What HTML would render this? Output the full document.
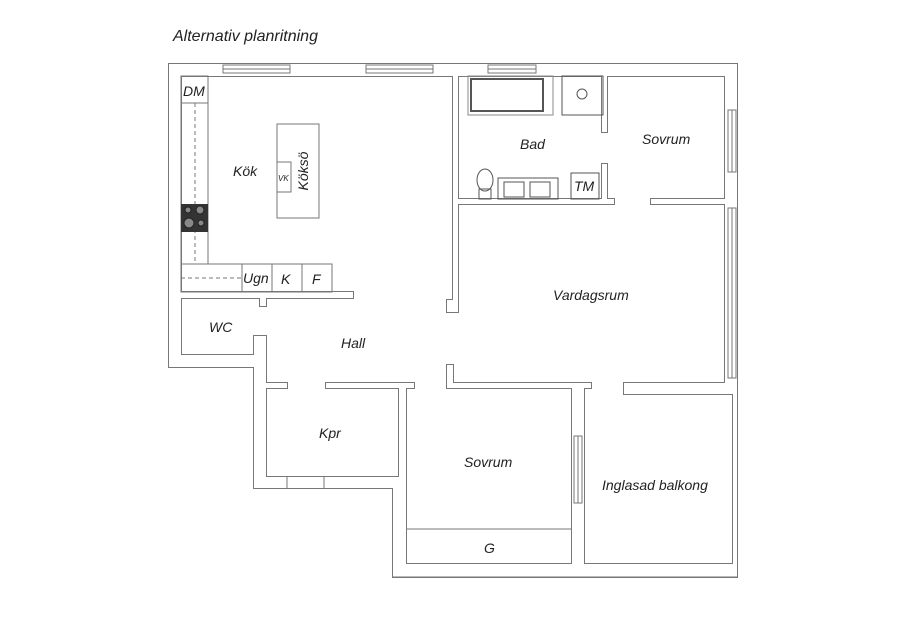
<!DOCTYPE html>
<html><head><meta charset="utf-8"><style>
html,body{margin:0;padding:0;background:#fff;}
svg{display:block;}
text{font-family:"Liberation Sans",sans-serif;font-style:italic;fill:#222;}
</style></head><body>
<svg width="905" height="640" viewBox="0 0 905 640" xmlns="http://www.w3.org/2000/svg">
<text x="173" y="41" font-size="16" fill="#111">Alternativ planritning</text>
<g id="walls" stroke="#777" stroke-width="2" fill="#fff">
<rect x="169" y="64" width="568" height="12"/>
<rect x="169" y="64" width="12" height="303"/>
<rect x="169" y="355" width="91" height="12"/>
<rect x="254" y="336" width="12" height="152"/>
<rect x="181" y="292" width="172" height="6"/>
<rect x="260" y="292" width="6" height="14"/>
<rect x="266" y="383" width="21" height="5"/>
<rect x="326" y="383" width="88" height="5"/>
<rect x="447" y="383" width="144" height="5"/>
<rect x="447" y="365" width="6" height="23"/>
<rect x="624" y="383" width="101" height="11"/>
<rect x="725" y="64" width="12" height="330"/>
<rect x="733" y="383" width="4" height="194"/>
<rect x="399" y="383" width="7" height="105"/>
<rect x="254" y="477" width="152" height="11"/>
<rect x="393" y="477" width="13" height="100"/>
<rect x="393" y="564" width="344" height="13"/>
<rect x="572" y="383" width="12" height="181"/>
<rect x="453" y="64" width="5" height="248"/>
<rect x="447" y="300" width="11" height="12"/>
<rect x="458" y="199" width="156" height="5"/>
<rect x="651" y="199" width="74" height="5"/>
<rect x="602" y="64" width="5" height="68"/>
<rect x="602" y="164" width="5" height="40"/>
</g>
<g fill="#fff" stroke="none">
<rect x="169" y="64" width="568" height="12"/>
<rect x="169" y="64" width="12" height="303"/>
<rect x="169" y="355" width="91" height="12"/>
<rect x="254" y="336" width="12" height="152"/>
<rect x="181" y="292" width="172" height="6"/>
<rect x="260" y="292" width="6" height="14"/>
<rect x="266" y="383" width="21" height="5"/>
<rect x="326" y="383" width="88" height="5"/>
<rect x="447" y="365" width="6" height="23"/>
<rect x="447" y="300" width="11" height="12"/>
<rect x="725" y="64" width="12" height="330"/>
<rect x="733" y="383" width="4" height="194"/>
<rect x="399" y="383" width="7" height="105"/>
<rect x="254" y="477" width="152" height="11"/>
<rect x="393" y="477" width="13" height="100"/>
<rect x="393" y="564" width="344" height="13"/>
<rect x="572" y="383" width="12" height="181"/>
<rect x="624" y="383" width="101" height="11"/>
<rect x="447" y="383" width="144" height="5"/>
<rect x="453" y="64" width="5" height="248"/>
<rect x="458" y="199" width="156" height="5"/>
<rect x="651" y="199" width="74" height="5"/>
<rect x="602" y="64" width="5" height="68"/>
<rect x="602" y="164" width="5" height="40"/>
</g>
<g stroke="#777" stroke-width="1" fill="none">
<line x1="287" y1="477" x2="287" y2="488"/><line x1="324" y1="477" x2="324" y2="488"/>
<line x1="406" y1="529" x2="572" y2="529"/>
<line x1="393" y1="577" x2="737" y2="577"/>
</g>
<g stroke="#777" stroke-width="1" fill="#fff">
<rect x="223" y="65" width="67" height="8"/><line x1="223" y1="69" x2="290" y2="69"/>
<rect x="366" y="65" width="67" height="8"/><line x1="366" y1="69" x2="433" y2="69"/>
<rect x="488" y="65" width="48" height="8"/><line x1="488" y1="69" x2="536" y2="69"/>
<rect x="728" y="110" width="8" height="62"/><line x1="732" y1="110" x2="732" y2="172"/>
<rect x="728" y="208" width="8" height="170"/><line x1="732" y1="208" x2="732" y2="378"/>
<rect x="574" y="436" width="8" height="67"/><line x1="578" y1="436" x2="578" y2="503"/>
</g>
<g stroke="#777" stroke-width="1" fill="none">
<rect x="181" y="76" width="27" height="188"/>
<line x1="181" y1="103" x2="208" y2="103"/>
<line x1="195" y1="103" x2="195" y2="264" stroke-dasharray="4,3"/>
<rect x="181" y="264" width="151" height="28"/>
<line x1="242" y1="264" x2="242" y2="292"/>
<line x1="272" y1="264" x2="272" y2="292"/>
<line x1="302" y1="264" x2="302" y2="292"/>
<line x1="181" y1="278" x2="242" y2="278" stroke-dasharray="4,3"/>
<rect x="277" y="124" width="42" height="94"/>
<rect x="277" y="162" width="14" height="30"/>
</g>
<rect x="181" y="204" width="27" height="28" fill="#333"/>
<g fill="#888" stroke="#222">
<circle cx="188" cy="210" r="3"/><circle cx="200" cy="210" r="4"/>
<circle cx="189" cy="223" r="5"/><circle cx="201" cy="223" r="3"/>
</g>
<g stroke="#555" stroke-width="1" fill="none">
<rect x="468" y="76" width="85" height="39" stroke="#888"/>
<rect x="471" y="79" width="72" height="32" stroke-width="2"/>
<rect x="562" y="76" width="41" height="39"/>
<circle cx="582" cy="94" r="5"/>
<rect x="498" y="178" width="60" height="21"/>
<rect x="504" y="182" width="20" height="15"/>
<rect x="530" y="182" width="20" height="15"/>
<rect x="571" y="173" width="28" height="26"/>
<ellipse cx="485" cy="180" rx="8" ry="11"/>
<rect x="479" y="189" width="12" height="10"/>
</g>
<g font-size="14">
<text x="233" y="176">Kök</text>
<text x="308" y="171" text-anchor="middle" transform="rotate(-90 308 171)">Köksö</text>
<text x="278" y="181" font-size="8">VK</text>
<text x="183" y="96">DM</text>
<text x="243" y="283">Ugn</text>
<text x="281" y="284">K</text>
<text x="312" y="284">F</text>
<text x="209" y="332">WC</text>
<text x="341" y="348">Hall</text>
<text x="520" y="149">Bad</text>
<text x="642" y="144">Sovrum</text>
<text x="574" y="191">TM</text>
<text x="553" y="300">Vardagsrum</text>
<text x="319" y="438">Kpr</text>
<text x="464" y="467">Sovrum</text>
<text x="602" y="490">Inglasad balkong</text>
<text x="484" y="553">G</text>
</g>
</svg>
</body></html>
